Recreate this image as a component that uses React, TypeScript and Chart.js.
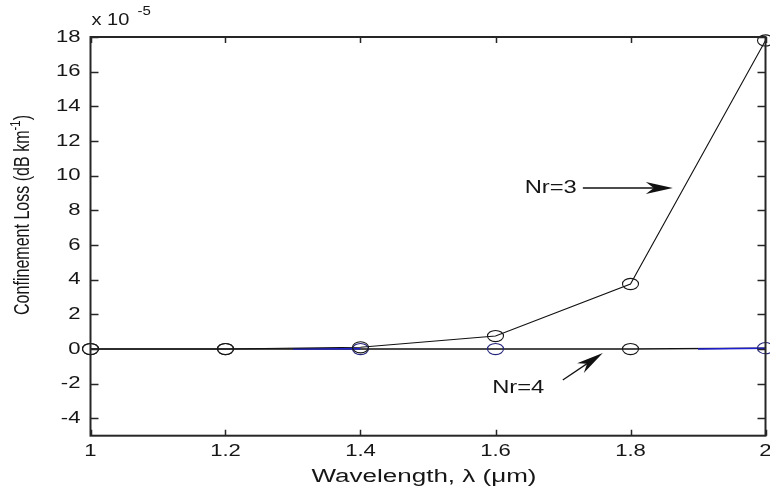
import React, { useEffect, useRef } from "react";
import { Chart, registerables } from "chart.js";

Chart.register(...registerables);

// ---- data ----
const wavelengths = [1.0, 1.2, 1.4, 1.6, 1.8, 2.0];
const lossNr3 = [0, 0, 0.1, 0.75, 3.75, 17.8];
const lossNr4 = [0, 0, 0, 0, 0, 0.05];
const blueTraceX = [1.3, 1.4, 1.65, 1.9, 2.0];
const blueTraceY: (number | null)[] = [0, 0.02, null, 0, 0.05];
const nr4PointBlue = [false, false, true, true, false, true];

const xTicks = [1, 1.2, 1.4, 1.6, 1.8, 2];
const xTickLabels = ["1", "1.2", "1.4", "1.6", "1.8", "2"];
const yTicks = [-4, -2, 0, 2, 4, 6, 8, 10, 12, 14, 16, 18];
const yTickLabels = ["-4", "-2", "0", "2", "4", "6", "8", "10", "12", "14", "16", "18"];
const X_MIN = 1;
const X_MAX = 2;
const Y_MIN = -5;
const Y_MAX = 18;

const annotationTexts = ["Nr=3", "Nr=4"];
const annotationTextX = [1.7205, 1.6723];
const annotationTextY = [9.29, -2.25];
const arrowTailX = [1.7294, 1.6997];
const arrowTailY = [9.29, -1.79];
const arrowTipX = [1.8627, 1.759];
const arrowTipY = [9.29, -0.23];

const TEXT = "#161616";
const FONT = "Liberation Sans, Arial, Helvetica, sans-serif";
const SX = 1.3;

function drawText(
  ctx: CanvasRenderingContext2D,
  text: string,
  x: number,
  y: number,
  align: CanvasTextAlign,
  size: number,
  sx: number
) {
  ctx.save();
  ctx.font = `${size}px ${FONT}`;
  ctx.textBaseline = "middle";
  ctx.textAlign = align;
  ctx.fillStyle = TEXT;
  ctx.translate(x, y);
  ctx.scale(sx, 1);
  ctx.fillText(text, 0, 0);
  ctx.restore();
}

const markerPlugin = {
  id: "ellipseMarkers",
  afterDatasetsDraw(chart: any) {
    const ctx: CanvasRenderingContext2D = chart.ctx;
    [2, 0].forEach((di) => {
      const meta = chart.getDatasetMeta(di);
      meta.data.forEach((pt: any, i: number) => {
        const isBlue = di === 2 && nr4PointBlue[i];
        ctx.save();
        ctx.strokeStyle = isBlue ? "#24247a" : "#161616";
        ctx.lineWidth = 1.1;
        ctx.beginPath();
        ctx.ellipse(pt.x, pt.y, 8, 5.6, 0, 0, Math.PI * 2);
        ctx.stroke();
        ctx.restore();
      });
    });
  },
};

const framePlugin = {
  id: "matlabFrame",
  afterDraw(chart: any) {
    const ctx: CanvasRenderingContext2D = chart.ctx;
    const { left, right, top, bottom } = chart.chartArea;
    const xs = chart.scales.x;
    const ys = chart.scales.y;
    ctx.save();
    ctx.strokeStyle = "#262626";
    ctx.lineWidth = 2;
    ctx.strokeRect(left, top, right - left, bottom - top);
    ctx.lineWidth = 1.5;
    ctx.beginPath();
    xTicks.forEach((v) => {
      const px = Math.round(xs.getPixelForValue(v)) + 0.5;
      ctx.moveTo(px, bottom);
      ctx.lineTo(px, bottom - 6);
      ctx.moveTo(px, top);
      ctx.lineTo(px, top + 6);
    });
    yTicks.forEach((v) => {
      const py = Math.round(ys.getPixelForValue(v)) + 0.5;
      ctx.moveTo(left, py);
      ctx.lineTo(left + 8, py);
      ctx.moveTo(right, py);
      ctx.lineTo(right - 8, py);
    });
    ctx.stroke();
    xTicks.forEach((v, i) => {
      drawText(ctx, xTickLabels[i], xs.getPixelForValue(v), bottom + 16, "center", 17, SX);
    });
    yTicks.forEach((v, i) => {
      drawText(ctx, yTickLabels[i], left - 10, ys.getPixelForValue(v), "right", 17, SX);
    });
    drawText(ctx, "x 10", left + 1, top - 16, "left", 16, 1.25);
    drawText(ctx, "-5", left + 47, top - 25, "left", 12, 1.25);

    ctx.font = `18px ${FONT}`;
    const xt = "Wavelength, \u03bb (\u03bcm)";
    const xw = ctx.measureText(xt).width;
    drawText(ctx, xt, 424, 477, "center", 18, 225 / xw);

    const p1 = "Confinement Loss (dB km";
    const p2 = "-1";
    const p3 = ")";
    ctx.font = `17px ${FONT}`;
    const w1 = ctx.measureText(p1).width;
    const w3 = ctx.measureText(p3).width;
    ctx.font = `12px ${FONT}`;
    const w2 = ctx.measureText(p2).width;
    const total = w1 + w2 + w3;
    const along = 200 / total;
    ctx.save();
    ctx.translate(23, 215);
    ctx.rotate(-Math.PI / 2);
    ctx.scale(along, 1.25);
    ctx.fillStyle = TEXT;
    ctx.textBaseline = "middle";
    ctx.textAlign = "left";
    let cx = -total / 2;
    ctx.font = `17px ${FONT}`;
    ctx.fillText(p1, cx, 0);
    cx += w1;
    ctx.font = `12px ${FONT}`;
    ctx.fillText(p2, cx, -6);
    cx += w2;
    ctx.font = `17px ${FONT}`;
    ctx.fillText(p3, cx, 0);
    ctx.restore();

    annotationTexts.forEach((t, i) => {
      const tx = xs.getPixelForValue(annotationTextX[i]);
      const ty = ys.getPixelForValue(annotationTextY[i]);
      drawText(ctx, t, tx, ty, "right", 18, 1.32);
      const x0 = xs.getPixelForValue(arrowTailX[i]);
      const y0 = ys.getPixelForValue(arrowTailY[i]);
      const x1 = xs.getPixelForValue(arrowTipX[i]);
      const y1 = ys.getPixelForValue(arrowTipY[i]);
      const ang = Math.atan2(y1 - y0, x1 - x0);
      const L = 27;
      const H = 6;
      const ux = Math.cos(ang);
      const uy = Math.sin(ang);
      const nx = -uy;
      const ny = ux;
      ctx.strokeStyle = "#111";
      ctx.lineWidth = 1.3;
      ctx.beginPath();
      ctx.moveTo(x0, y0);
      ctx.lineTo(x1 - ux * 10, y1 - uy * 10);
      ctx.stroke();
      ctx.fillStyle = "#111";
      ctx.beginPath();
      ctx.moveTo(x1, y1);
      ctx.lineTo(x1 - ux * L + nx * H, y1 - uy * L + ny * H);
      ctx.lineTo(x1 - ux * (L - 8), y1 - uy * (L - 8));
      ctx.lineTo(x1 - ux * L - nx * H, y1 - uy * L - ny * H);
      ctx.closePath();
      ctx.fill();
    });
    ctx.restore();
  },
};

const bgPlugin = {
  id: "whiteBg",
  beforeDraw(chart: any) {
    const ctx = chart.ctx;
    ctx.save();
    ctx.fillStyle = "#ffffff";
    ctx.fillRect(0, 0, chart.width, chart.height);
    ctx.restore();
  },
};

export default function App() {
  const ref = useRef<HTMLCanvasElement | null>(null);
  useEffect(() => {
    if (!ref.current) return;
    const chart = new Chart(ref.current, {
      type: "line",
      data: {
        datasets: [
          {
            label: "Nr=3",
            data: wavelengths.map((x, i) => ({ x, y: lossNr3[i] })),
            borderColor: "#111111",
            borderWidth: 1.1,
            pointRadius: 0,
            order: 0,
          },
          {
            label: "blue trace",
            data: blueTraceX.map((x, i) => ({ x, y: blueTraceY[i] })) as any,
            borderColor: "#1f1fd0",
            borderWidth: 1.5,
            pointRadius: 0,
            spanGaps: false,
            order: 1,
          },
          {
            label: "Nr=4",
            data: wavelengths.map((x, i) => ({ x, y: lossNr4[i] })),
            borderColor: "#111111",
            borderWidth: 1.4,
            pointRadius: 0,
            order: 2,
          },
        ],
      },
      options: {
        animation: false,
        responsive: false,
        events: [],
        layout: { padding: { left: 90.5, right: 4.5, top: 37, bottom: 58.3 } },
        plugins: { legend: { display: false }, tooltip: { enabled: false } },
        scales: {
          x: { type: "linear", min: X_MIN, max: X_MAX, display: false },
          y: { type: "linear", min: Y_MIN, max: Y_MAX, display: false },
        },
      },
      plugins: [bgPlugin, markerPlugin, framePlugin],
    });
    return () => chart.destroy();
  }, []);
  return (
    <div style={{ position: "fixed", left: 0, top: 0, width: 770, height: 494, background: "#fff" }}>
      <canvas ref={ref} width={770} height={494} style={{ width: 770, height: 494 }} />
    </div>
  );
}
